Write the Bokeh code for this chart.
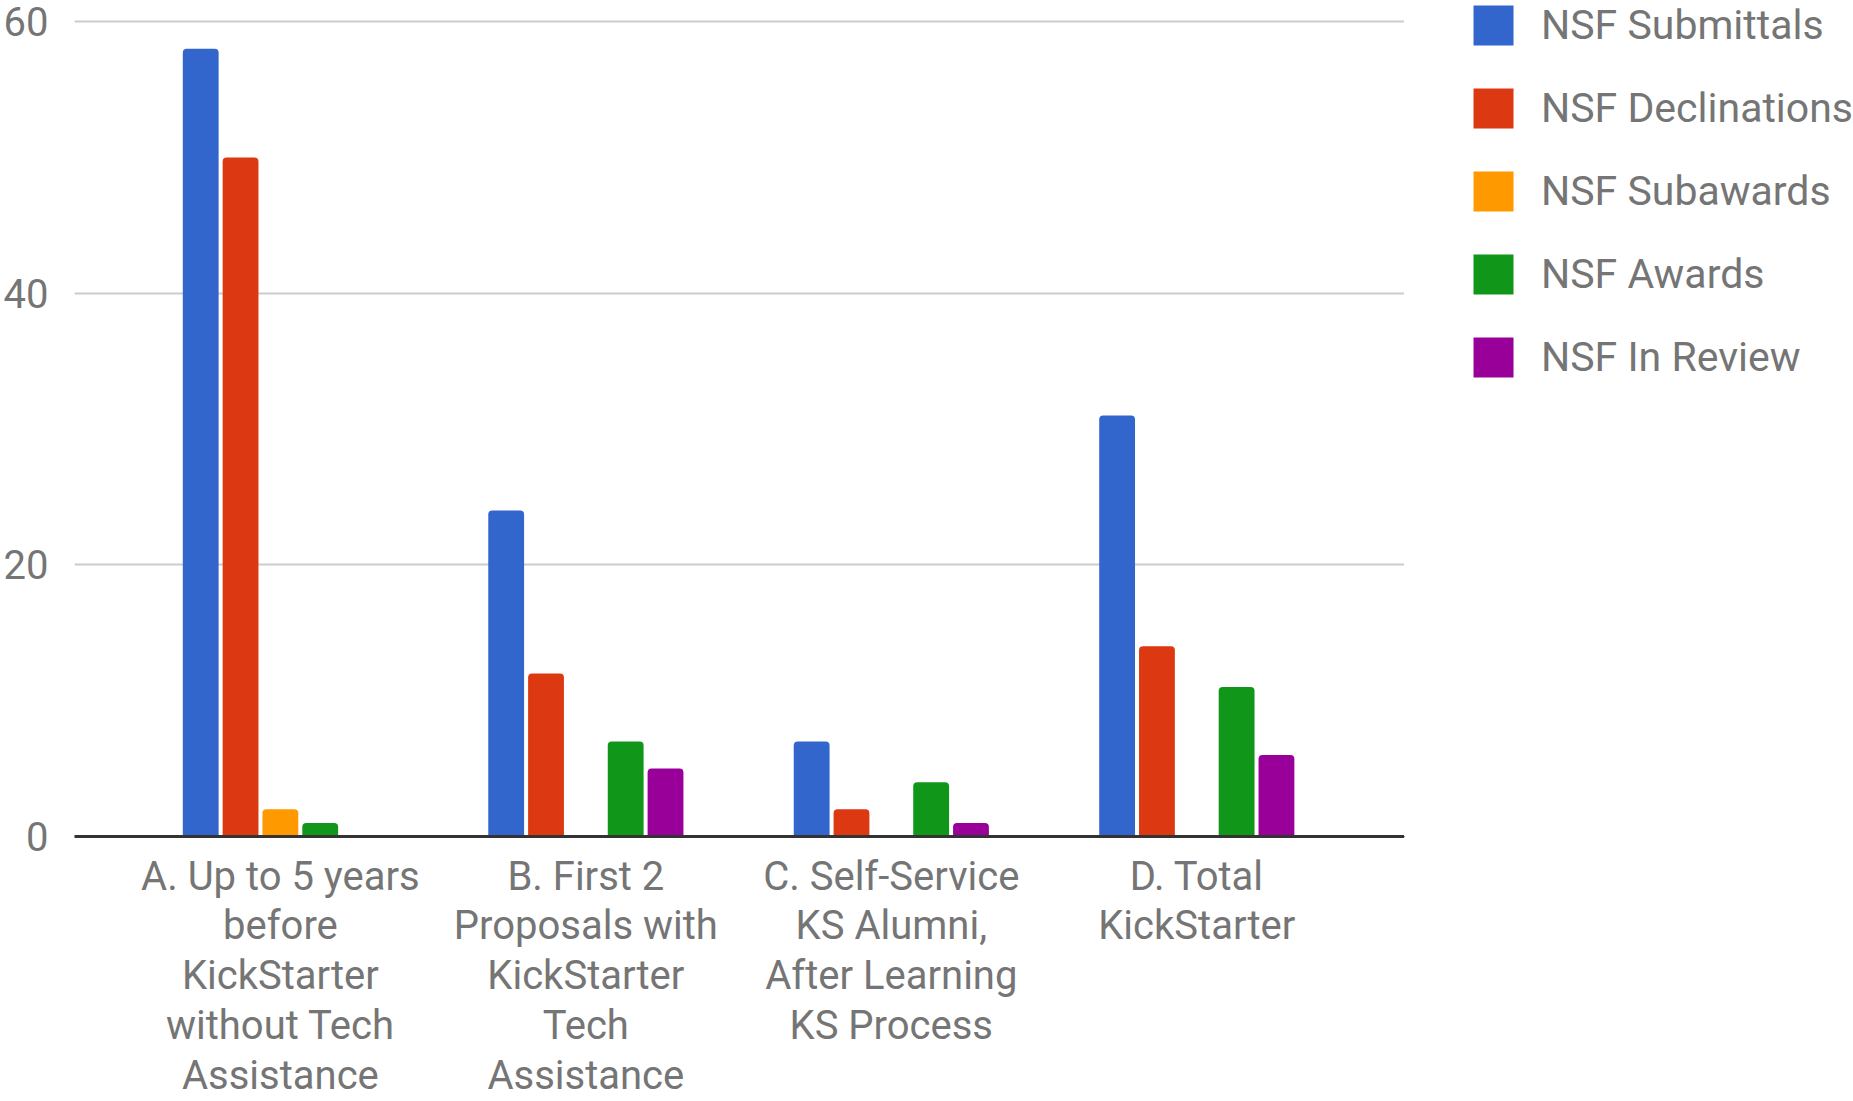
from bokeh.plotting import figure
from bokeh.layouts import row
from bokeh.models import Range1d, FixedTicker, Legend, LegendItem, ColumnDataSource
from bokeh.embed import file_html
from bokeh.resources import INLINE

categories = [
    "A. Up to 5 years\nbefore\nKickStarter\nwithout Tech\nAssistance",
    "B. First 2\nProposals with\nKickStarter\nTech\nAssistance",
    "C. Self-Service\nKS Alumni,\nAfter Learning\nKS Process",
    "D. Total\nKickStarter",
]
series_names = ["NSF Submittals", "NSF Declinations", "NSF Subawards", "NSF Awards", "NSF In Review"]
submittals = [58, 24, 7, 31]
declinations = [50, 12, 2, 14]
subawards = [2, 0, 0, 0]
awards = [1, 7, 4, 11]
in_review = [0, 5, 1, 6]
y_ticks = [0, 20, 40, 60]
colors = ["#3366CC", "#DC3912", "#FF9900", "#109618", "#990099"]

series_values = [submittals, declinations, subawards, awards, in_review]
positions = list(range(len(categories)))

TEXT = "#757575"

p = figure(width=1404, height=1101, output_backend="svg", toolbar_location=None,
           x_range=Range1d(-0.674, 3.68), y_range=Range1d(0, 61.55),
           min_border_left=68, min_border_top=0, min_border_bottom=240,
           min_border_right=0, outline_line_color=None)

# legend panel (separate figure to the right; its bars lie far outside its view)
lg = figure(width=449, height=1101, output_backend="svg", toolbar_location=None,
            x_range=Range1d(1000, 1001), y_range=Range1d(1000, 1001),
            x_axis_location=None, y_axis_location=None,
            min_border_left=0, min_border_right=0, min_border_top=0, min_border_bottom=0,
            outline_line_color=None)
lg.xgrid.grid_line_color = None
lg.ygrid.grid_line_color = None

bar_w = 0.1173
step = 0.1304
items = []
for i, (name, vals, col) in enumerate(zip(series_names, series_values, colors)):
    xs = [x + (i - 2) * step for x in positions]
    src = ColumnDataSource(dict(x=xs, top=vals))
    p.vbar(x="x", top="top", bottom=0, width=bar_w, source=src,
           fill_color=col, line_color=None, border_radius=(4, 4, 0, 0))
    r = lg.vbar(x="x", top="top", bottom=0, width=bar_w, source=src,
                fill_color=col, line_color=None)
    items.append(LegendItem(label=name, renderers=[r]))

# axes
p.xaxis.ticker = FixedTicker(ticks=positions)
p.xaxis.major_label_overrides = {i: c for i, c in enumerate(categories)}
p.xaxis.major_label_text_font = "Roboto"
p.xaxis.major_label_text_font_size = "40px"
p.xaxis.major_label_text_color = TEXT
p.xaxis.major_label_text_line_height = 1.06
p.xaxis.major_label_standoff = 10
p.xaxis.major_tick_line_color = None
p.xaxis.minor_tick_line_color = None
p.xaxis.axis_line_color = "#333333"
p.xaxis.axis_line_width = 3

p.yaxis.ticker = FixedTicker(ticks=y_ticks)
p.yaxis.major_label_text_font = "Roboto"
p.yaxis.major_label_text_font_size = "40px"
p.yaxis.major_label_text_color = TEXT
p.yaxis.major_label_standoff = 20
p.yaxis.major_tick_line_color = None
p.yaxis.minor_tick_line_color = None
p.yaxis.axis_line_color = None

p.xgrid.grid_line_color = None
p.ygrid.ticker = FixedTicker(ticks=y_ticks)
p.ygrid.grid_line_color = "#cccccc"
p.ygrid.grid_line_width = 2

legend = Legend(items=items, location="top_right", orientation="vertical",
                glyph_width=50, glyph_height=50, label_standoff=23, spacing=33,
                padding=0, margin=0, border_line_color=None, background_fill_alpha=0,
                label_text_font="Roboto", label_text_font_size="41px",
                label_text_color=TEXT, label_text_baseline="middle")
lg.add_layout(legend, "center")

layout = row(p, lg)
open("out.html", "w").write(file_html(layout, INLINE))
